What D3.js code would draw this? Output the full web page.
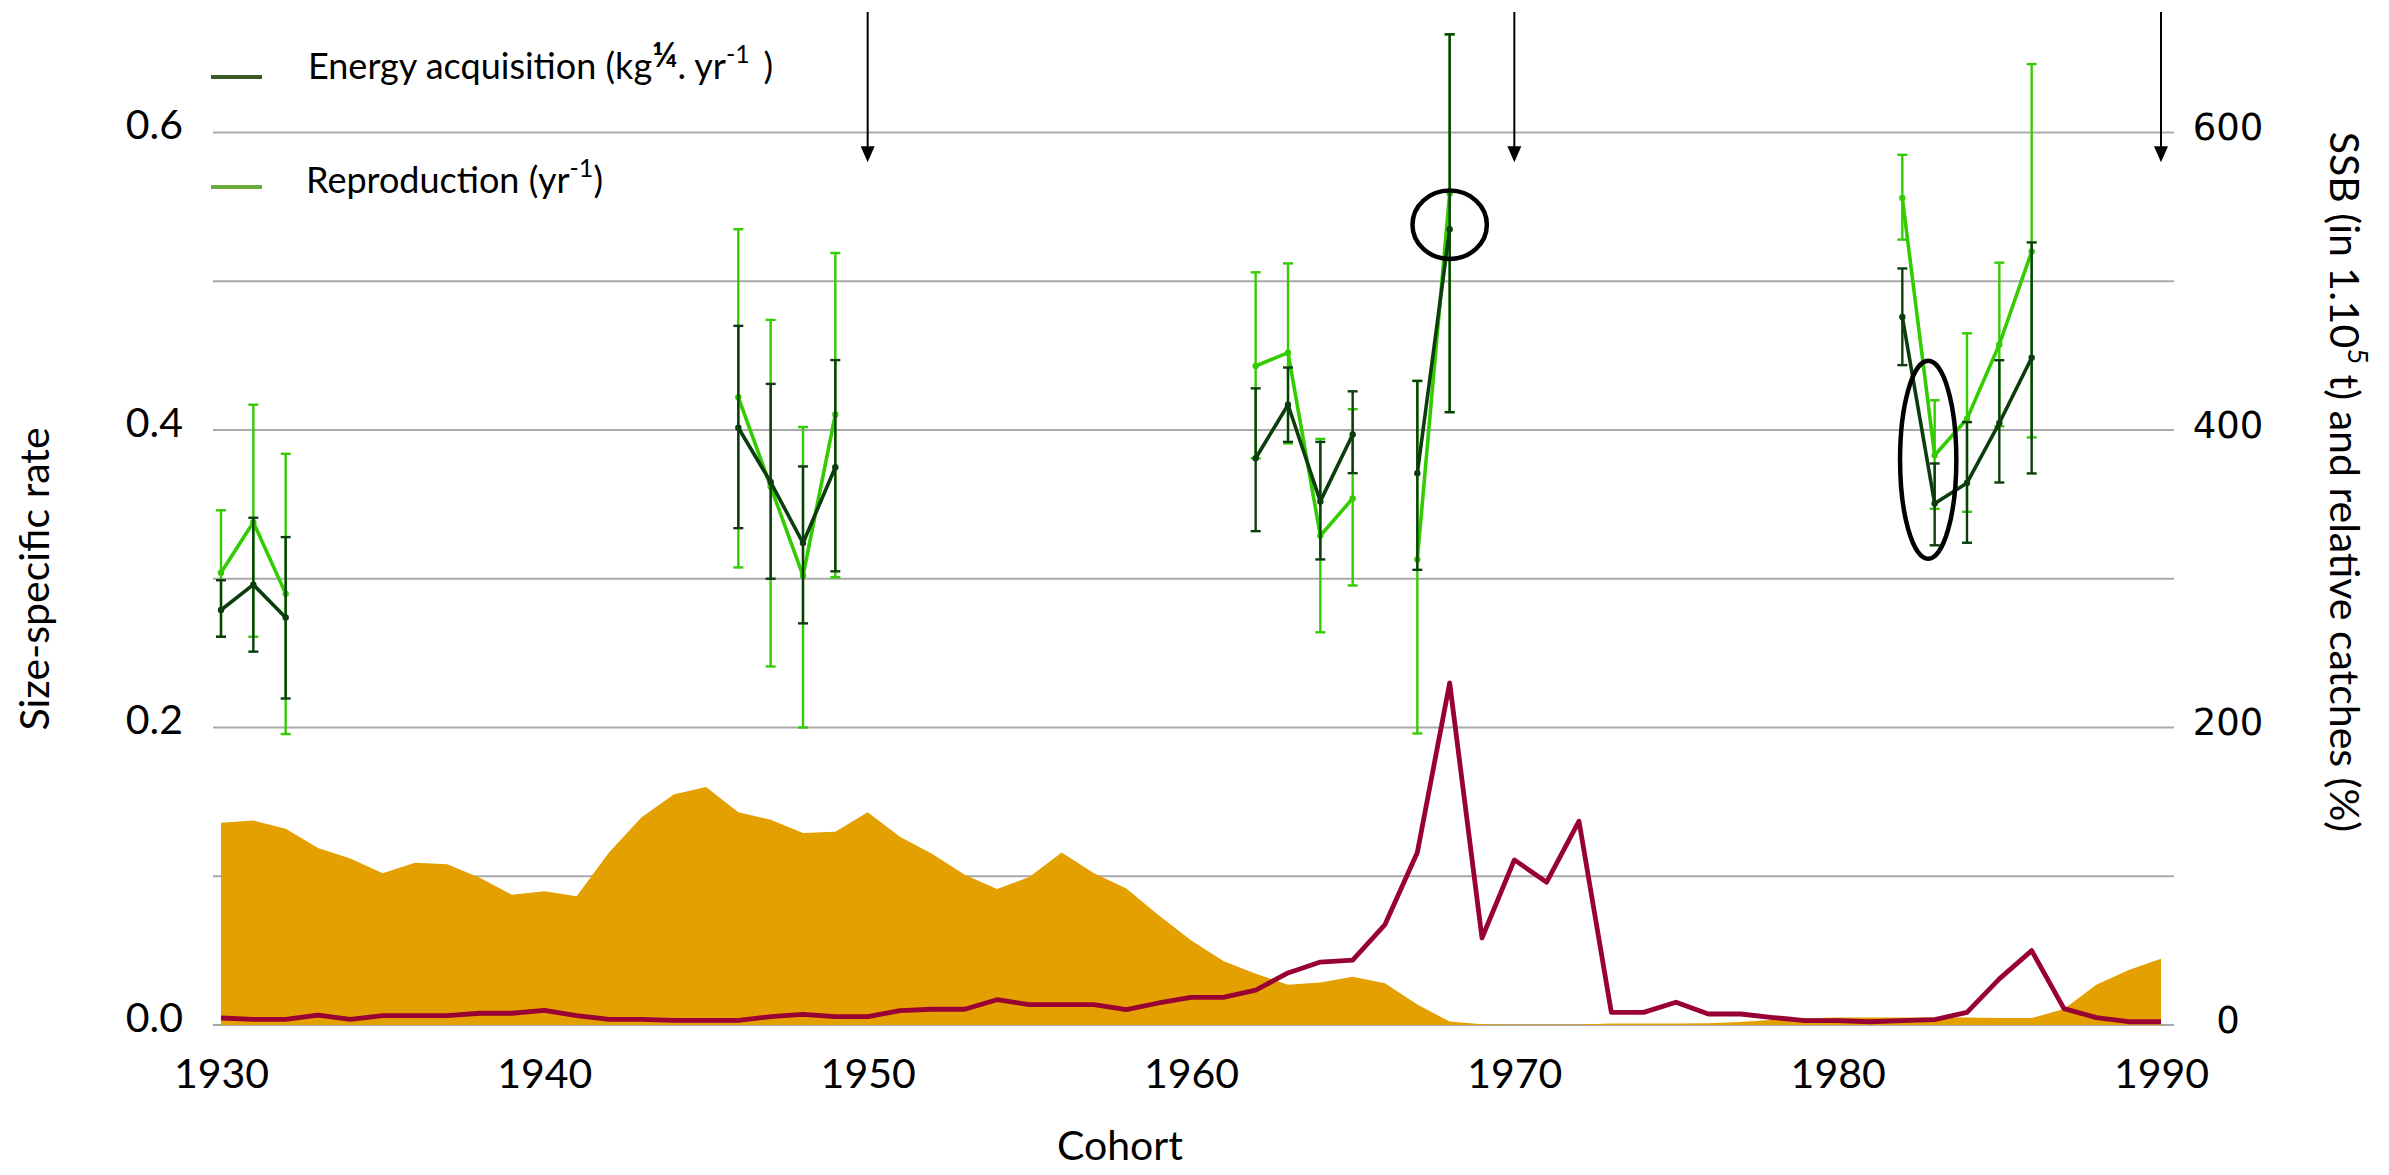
<!DOCTYPE html>
<html lang="en">
<head>
<meta charset="UTF-8">
<title>Cohort rates, SSB and catches</title>
<script src="https://d3js.org/d3.v7.min.js"></script>
<style>
    body { margin: 0; background: #fff; }
    .axis text { font-family: Lato, "Open Sans", sans-serif; font-size: 41px; fill: #000; }
    .axis-right text { font-family: "DejaVu Sans", Verdana, sans-serif; font-size: 37px; fill: #000; }
    .title { font-family: Lato, "Open Sans", sans-serif; font-size: 41px; fill: #000; }
    .legend { font-family: Lato, "Open Sans", sans-serif; font-size: 36px; fill: #000; }
    .grid line { stroke: #a9a9a9; stroke-width: 2; }
</style>
</head>
<body>
<div id="chart"></div>
<script>

// spawning stock biomass (1.10^5 t) and relative catches (%) per cohort year
var stockYears = d3.range(1930, 1991);
var ssb = [136, 137.5, 132, 119, 112, 102, 109, 108, 99, 87.5,
    90, 86.5, 116, 139.5, 155, 160, 143, 138, 129, 130,
    143, 126.5, 115, 101, 91.5, 99.5, 116, 102, 91.7, 73.7,
    57, 43, 34.5, 27, 28.5, 32.5, 28, 13.8, 2.3, 0.5,
    0.3, 0.3, 0.3, 1, 1, 1, 1.2, 2, 3.5, 4.5,
    5, 5, 5, 5, 5, 4.7, 4.7, 10.8, 27, 37,
    44.5];
var catches = [4.7, 3.8, 3.8, 6.7, 3.8, 6.3, 6.3, 6.3, 7.9, 7.9,
    9.9, 6.3, 3.8, 3.8, 3.1, 3.1, 3.1, 5.6, 7.2, 5.6,
    5.6, 9.7, 10.6, 10.6, 17, 13.7, 13.7, 13.7, 10.3, 14.8,
    18.6, 18.6, 23.4, 35, 42.3, 43.6, 67.5, 116, 230, 58.5,
    111, 96, 137, 8.5, 8.5, 15.3, 7.4, 7.4, 5, 3,
    3, 2.2, 3, 3.6, 8.5, 31, 50, 11, 5, 2.2,
    2.2];

// size-specific rates with error bars
var rateYears = [1930, 1931, 1932, 1946, 1947, 1948, 1949, 1962, 1963, 1964, 1965, 1967, 1968, 1982, 1983, 1984, 1985, 1986];
var energy     = [0.279, 0.296, 0.274, 0.4015, 0.365, 0.324, 0.375, 0.381, 0.417, 0.352, 0.397, 0.371, 0.535, 0.476, 0.3506, 0.3644, 0.4047, 0.4486];
var energyLow  = [0.261, 0.251, 0.2195, 0.334, 0.300, 0.270, 0.305, 0.332, 0.392, 0.313, 0.371, 0.306, 0.412, 0.4436, 0.3225, 0.3242, 0.3647, 0.3708];
var energyHigh = [0.299, 0.341, 0.328, 0.470, 0.431, 0.3755, 0.447, 0.428, 0.442, 0.392, 0.426, 0.433, 0.666, 0.5086, 0.3775, 0.4053, 0.4469, 0.5261];
var repro      = [0.304, 0.338, 0.290, 0.422, 0.362, 0.302, 0.4105, 0.443, 0.452, 0.329, 0.354, 0.313, 0.559, 0.556, 0.383, 0.4075, 0.4575, 0.520];
var reproLow   = [0.261, 0.261, 0.1956, 0.3076, 0.241, 0.200, 0.301, 0.381, 0.391, 0.264, 0.2955, 0.196, 0.412, 0.528, 0.347, 0.345, 0.4025, 0.395];
var reproHigh  = [0.346, 0.417, 0.384, 0.535, 0.474, 0.402, 0.519, 0.506, 0.512, 0.394, 0.414, 0.433, 0.666, 0.585, 0.420, 0.465, 0.5125, 0.646];

var leftTicks = [0, 0.2, 0.4, 0.6];
var gridTicks = [0, 0.1, 0.2, 0.3, 0.4, 0.5, 0.6];
var rightTicks = [0, 200, 400, 600];
var yearTicks = [1930, 1940, 1950, 1960, 1970, 1980, 1990];

// arrows and circled points
var arrowYears = [1950, 1970, 1990];
var rings = [
    {year: 1968, value: 0.538, dx: 1.15, dy: 0.023},
    {year: 1982.8, value: 0.38, dx: 0.87, dy: 0.0665}
];

var width = 2389, height = 1175;
var plotLeft = 213, plotRight = 2174;

var svg = d3.select("#chart")
    .append("svg")
    .attr("width", width)
    .attr("height", height)
    .style("display", "block");

var x = d3.scaleLinear()
    .domain([1930, 1990])
    .range([221, 2161]);

var y = d3.scaleLinear()
    .domain([0, 0.6])
    .range([1025, 132.5]);

var yRight = d3.scaleLinear()
    .domain([0, 600])
    .range([1025, 132.5]);

// gridlines
svg.append("g")
    .attr("class", "grid")
    .selectAll("line")
    .data(gridTicks)
    .enter()
    .append("line")
    .attr("x1", plotLeft)
    .attr("x2", plotRight)
    .attr("y1", function (d) { return y(d); })
    .attr("y2", function (d) { return y(d); });

var stock = stockYears.map(function (yr, i) {
    return {year: yr, ssb: ssb[i], catches: catches[i]};
});

// SSB area
svg.append("path")
    .datum(stock)
    .attr("fill", "#e3a000")
    .attr("d", d3.area()
        .x(function (d) { return x(d.year); })
        .y0(yRight(0))
        .y1(function (d) { return yRight(d.ssb); }));

// relative catches
svg.append("path")
    .datum(stock)
    .attr("fill", "none")
    .attr("stroke", "#990033")
    .attr("stroke-width", 4.8)
    .attr("stroke-linejoin", "round")
    .attr("d", d3.line()
        .x(function (d) { return x(d.year); })
        .y(function (d) { return yRight(d.catches); }));

// split the rate series into runs of consecutive cohorts
function runs(values, low, high) {
    var out = [], cur = [];
    rateYears.forEach(function (yr, i) {
        if (cur.length && yr - cur[cur.length - 1].year > 1) {
            out.push(cur);
            cur = [];
        }
        cur.push({year: yr, v: values[i], lo: low[i], hi: high[i]});
    });
    out.push(cur);
    return out;
}

function drawSeries(values, low, high, colour) {
    var g = svg.append("g");
    var pts = d3.merge(runs(values, low, high));

    g.selectAll(".bar")
        .data(pts)
        .enter()
        .append("line")
        .attr("x1", function (d) { return x(d.year); })
        .attr("x2", function (d) { return x(d.year); })
        .attr("y1", function (d) { return y(d.lo); })
        .attr("y2", function (d) { return y(d.hi); })
        .attr("stroke", colour)
        .attr("stroke-width", 2.4);

    ["lo", "hi"].forEach(function (k) {
        g.selectAll(".cap-" + k)
            .data(pts)
            .enter()
            .append("line")
            .attr("x1", function (d) { return x(d.year) - 5; })
            .attr("x2", function (d) { return x(d.year) + 5; })
            .attr("y1", function (d) { return y(d[k]); })
            .attr("y2", function (d) { return y(d[k]); })
            .attr("stroke", colour)
            .attr("stroke-width", 2.4);
    });

    var line = d3.line()
        .x(function (d) { return x(d.year); })
        .y(function (d) { return y(d.v); });

    g.selectAll(".run")
        .data(runs(values, low, high))
        .enter()
        .append("path")
        .attr("fill", "none")
        .attr("stroke", colour)
        .attr("stroke-width", 3.6)
        .attr("d", line);

    g.selectAll("circle")
        .data(pts)
        .enter()
        .append("circle")
        .attr("cx", function (d) { return x(d.year); })
        .attr("cy", function (d) { return y(d.v); })
        .attr("r", 3.2)
        .attr("fill", colour);
}

drawSeries(repro, reproLow, reproHigh, "#33cc00");
drawSeries(energy, energyLow, energyHigh, "#0c3d0c");

// circled points
svg.append("g")
    .selectAll("ellipse")
    .data(rings)
    .enter()
    .append("ellipse")
    .attr("cx", function (d) { return x(d.year); })
    .attr("cy", function (d) { return y(d.value); })
    .attr("rx", function (d) { return x(d.year + d.dx) - x(d.year); })
    .attr("ry", function (d) { return y(d.value - d.dy) - y(d.value); })
    .attr("fill", "none")
    .attr("stroke", "#000")
    .attr("stroke-width", 4.5);

// arrows
var arrows = svg.append("g")
    .selectAll("g")
    .data(arrowYears)
    .enter()
    .append("g")
    .attr("transform", function (d) { return "translate(" + x(d) + ",0)"; });
arrows.append("line")
    .attr("y1", y(0.681))
    .attr("y2", y(0.59))
    .attr("stroke", "#000")
    .attr("stroke-width", 2);
arrows.append("path")
    .attr("d", function () {
        var tip = y(0.58);
        return "M-7," + (tip - 16) + "L7," + (tip - 16) + "L0," + tip + "Z";
    })
    .attr("fill", "#000");

// axes
var leftAxis = svg.append("g")
    .attr("class", "axis")
    .attr("transform", "translate(" + plotLeft + ",0)")
    .call(d3.axisLeft(y).tickValues(leftTicks).tickFormat(d3.format(".1f")).tickSize(0).tickPadding(30));
leftAxis.select(".domain").remove();
leftAxis.selectAll("text").attr("dy", "0.15em");

var bottomAxis = svg.append("g")
    .attr("class", "axis")
    .attr("transform", "translate(0," + y(0) + ")")
    .call(d3.axisBottom(x).tickValues(yearTicks).tickFormat(d3.format("d")).tickSize(0).tickPadding(34));
bottomAxis.select(".domain").remove();

var rightAxis = svg.append("g")
    .attr("class", "axis-right")
    .attr("transform", "translate(" + plotRight + ",0)")
    .call(d3.axisRight(yRight).tickValues(rightTicks).tickSize(0));
rightAxis.select(".domain").remove();
rightAxis.selectAll("text")
    .attr("x", 54)
    .attr("dy", "0.2em")
    .attr("text-anchor", "middle");

// axis titles
svg.append("text")
    .attr("class", "title")
    .attr("transform", "translate(49,579) rotate(-90)")
    .attr("text-anchor", "middle")
    .text("Size-specific rate");

svg.append("text")
    .attr("class", "title")
    .attr("x", 1120)
    .attr("y", 1160)
    .attr("text-anchor", "middle")
    .text("Cohort");

var rt = svg.append("text")
    .attr("class", "title")
    .attr("transform", "translate(2330,482) rotate(90)")
    .attr("text-anchor", "middle");
rt.append("tspan").text("SSB (in 1.10");
rt.append("tspan").attr("dy", -18).style("font-size", "27px").text("5");
rt.append("tspan").attr("dy", 18).text(" t) and relative catches (%)");

// legend
var legend = svg.append("g");
legend.append("line")
    .attr("x1", 211).attr("x2", 262)
    .attr("y1", 77).attr("y2", 77)
    .attr("stroke", "#3c5a28").attr("stroke-width", 4);
legend.append("line")
    .attr("x1", 211).attr("x2", 262)
    .attr("y1", 187).attr("y2", 187)
    .attr("stroke", "#6aab3c").attr("stroke-width", 4);

var l1 = legend.append("text").attr("class", "legend").attr("x", 308).attr("y", 79);
l1.append("tspan").text("Energy acquisition (kg");
l1.append("tspan").attr("dy", -12).style("font-size", "34px").style("font-weight", "bold").text("\u00BC");
l1.append("tspan").attr("dy", 12).text(". yr");
l1.append("tspan").attr("dy", -16).style("font-size", "25px").text("-1");
l1.append("tspan").attr("dy", 16).text("\u2009 )");

var l2 = legend.append("text").attr("class", "legend").attr("x", 306).attr("y", 193);
l2.append("tspan").text("Reproduction (yr");
l2.append("tspan").attr("dy", -16).style("font-size", "25px").text("-1");
l2.append("tspan").attr("dy", 16).text(")");

</script>
</body>
</html>
